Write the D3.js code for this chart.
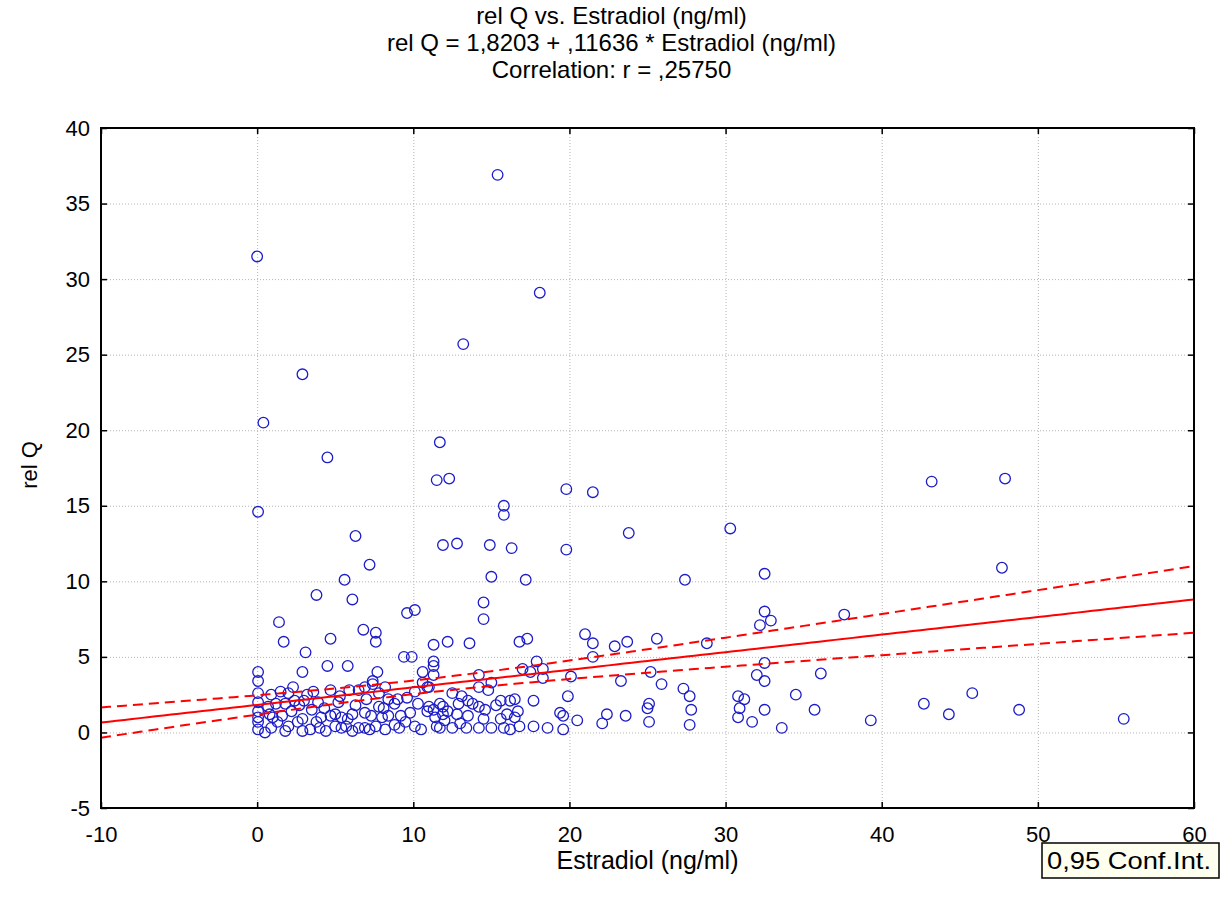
<!DOCTYPE html>
<html><head><meta charset="utf-8">
<script src="https://cdn.jsdelivr.net/npm/d3@7"></script>
<style>
body{margin:0;background:#fff;}
svg text{font-family:"Liberation Sans",Arial,sans-serif;fill:#000;}
</style></head>
<body><svg id="c" width="1223" height="904"></svg>
<script>
const titleLines = ["rel Q vs. Estradiol (ng/ml)", "rel Q = 1,8203 + ,11636 * Estradiol (ng/ml)", "Correlation: r = ,25750"];
const xLabel = "Estradiol (ng/ml)";
const yLabel = "rel Q";
const legendLabel = "0,95 Conf.Int.";
const xTicks = [-10, 0, 10, 20, 30, 40, 50, 60];
const yTicks = [-5, 0, 5, 10, 15, 20, 25, 30, 35, 40];
const intercept = 1.8203, slope = 0.11636;
// confidence band parameters (hyperbola around mean of x)
const bandMeanX = 10.5, bandA = 0.45, bandB = 0.0436;

const estradiol = [0.0,15.4,18.1,2.9,13.2,0.4,4.5,11.7,11.5,12.3,19.8,21.5,15.8,15.8,23.8,11.9,12.8,14.9,16.3,19.8,15.0,17.2,14.5,14.5,0.06,6.3,7.2,5.6,3.8,6.1,9.6,10.1,1.4,6.8,7.6,7.6,1.7,4.7,3.1,9.4,9.9,11.3,0.06,0.06,2.9,4.5,5.8,7.7,7.4,10.6,11.3,11.3,11.3,
27.4,32.5,32.5,32.9,32.2,37.6,23.7,25.6,28.8,32.5,32.0,32.5,36.1,25.2,25.9,23.3,27.3,27.7,30.8,31.2,34.5,25.1,25.0,27.8,30.9,32.5,35.7,23.6,30.8,25.1,27.7,31.7,33.6,39.3,47.7,42.7,44.3,45.8,48.8,55.5,43.2,47.9,30.3,
12.2,13.6,16.8,17.3,21.0,21.5,22.9,17.9,17.0,18.3,18.3,21.5,20.1,14.2,14.2,14.8,19.9,17.7,16.2,15.6,13.8,12.9,11.9,11.3,11.4,11.9,12.8,13.5,14.5,15.6,16.5,16.7,19.4,19.6,20.5,22.4,22.1,11.7,12.5,13.4,14.2,15.0,15.8,17.7,18.6,19.6,17.5,16.8,16.5,13.5,12.2,14.2,16.2,11.0,11.0,11.7,11.5,
1.5,2.3,3.2,4.7,0.06,0.06,0.06,0.06,0.8,1.3,1.8,2.2,2.6,2.9,3.5,3.8,4.4,4.7,5.0,1.2,1.8,0.5,3.9,2.4,
6.5,6.9,8.2,9.6,10.1,10.9,7.8,6.9,6.1,5.4,8.4,9.2,9.8,10.9,5.4,6.1,6.9,7.6,8.2,8.8,9.5,10.1,5.9,7.4,9.0,8.4,10.3,0.06,0.06,
0.9,2.0,3.4,4.0,5.7,6.5,7.2,9.1,10.5,1.0,1.6,2.9,4.1,5.0,5.8,7.3,8.0,0.7,2.7,3.0,4.3,5.2,6.3,7.0,8.1,8.8,0.9,2.0,3.6,5.3,7.8,
12.0,13.0,14.6,15.3,16.0,13.1,15.0,12.5,10.6];
const relQ = [31.5,36.9,29.1,23.7,25.7,20.5,18.2,19.2,16.7,16.8,16.1,15.9,15.0,14.4,13.2,12.4,12.5,12.4,12.2,12.1,10.3,10.1,8.6,7.5,14.6,13.0,11.1,10.1,9.1,8.8,7.9,8.1,7.3,6.8,6.6,6.0,6.0,6.2,5.3,5.0,5.0,5.8,4.0,3.4,4.0,4.4,4.4,4.0,3.4,4.0,4.7,4.4,3.8,
10.1,10.5,8.0,7.4,7.1,7.8,6.0,6.2,5.9,4.6,3.8,3.4,3.9,4.0,3.2,3.4,2.9,2.4,2.4,2.2,2.5,1.9,1.6,1.5,1.6,1.5,1.5,1.1,1.0,0.7,0.5,0.7,0.3,0.8,10.9,1.9,1.2,2.6,1.5,0.9,16.6,16.8,13.5,
6.0,5.9,6.0,6.2,6.5,5.9,5.7,4.7,4.2,4.2,3.6,5.0,3.7,3.8,3.0,2.8,2.4,2.1,2.1,2.1,1.9,1.9,1.7,1.5,1.0,1.2,1.2,1.1,0.9,0.9,1.0,1.4,1.3,1.1,0.8,1.2,0.6,0.3,0.3,0.3,0.3,0.3,0.3,0.4,0.3,0.2,4.0,0.4,2.2,2.1,1.4,1.7,0.2,3.0,1.7,1.9,0.4,
2.7,3.0,2.5,2.8,2.0,1.4,0.7,0.2,1.2,0.7,0.1,1.4,0.7,0.1,1.5,0.7,0.1,1.1,0.4,1.9,1.9,0.0,2.0,2.1,
2.8,3.0,3.0,2.3,2.7,3.0,1.7,1.3,1.2,1.0,1.1,1.1,1.3,1.4,0.3,0.1,0.3,0.4,0.2,0.5,0.7,0.4,2.8,3.2,2.2,2.2,1.9,2.6,1.0,
0.3,0.4,0.2,0.3,0.4,0.3,0.2,0.3,0.2,1.0,1.1,0.9,1.0,1.2,0.9,1.1,1.0,1.7,1.8,2.1,1.6,2.0,1.8,2.2,1.6,1.9,2.5,2.6,2.7,2.4,2.6,
0.8,0.6,1.5,1.8,1.2,2.4,3.3,2.6,3.3];

const W = 1223, H = 904;
const m = {left:101, right:1194, top:128, bottom:808};
const svg = d3.select("#c");
const x = d3.scaleLinear().domain([-10,60]).range([m.left, m.right]);
const y = d3.scaleLinear().domain([-5,40]).range([m.bottom, m.top]);

// grid
const grid = svg.append("g").attr("stroke","#b4b4b4").attr("stroke-width",1).attr("stroke-dasharray","1,2");
grid.selectAll(".gx").data(xTicks.slice(1,-1)).join("line")
  .attr("x1",d=>x(d)+0.5).attr("x2",d=>x(d)+0.5).attr("y1",m.top).attr("y2",m.bottom);
grid.selectAll(".gy").data(yTicks.slice(1,-1)).join("line")
  .attr("y1",d=>y(d)+0.5).attr("y2",d=>y(d)+0.5).attr("x1",m.left).attr("x2",m.right);

// points
const pts = estradiol.map((v,i)=>({x:v,y:relQ[i]}));
svg.append("g").selectAll("circle").data(pts).join("circle")
  .attr("cx",d=>x(d.x)).attr("cy",d=>y(d.y)).attr("r",5.3)
  .attr("fill","none").attr("stroke","#1c1cc8").attr("stroke-width",1.3);

// regression & band
const xs = d3.range(-10, 60.01, 0.5);
const fit = v => intercept + slope*v;
const hw = v => Math.sqrt(bandA*bandA + bandB*bandB*(v-bandMeanX)*(v-bandMeanX));
const line = d3.line().x(d=>x(d[0])).y(d=>y(d[1]));
svg.append("path").attr("d", line(xs.map(v=>[v,fit(v)+hw(v)]))).attr("fill","none").attr("stroke","#ff0000").attr("stroke-width",2).attr("stroke-dasharray","10,6");
svg.append("path").attr("d", line(xs.map(v=>[v,fit(v)-hw(v)]))).attr("fill","none").attr("stroke","#ff0000").attr("stroke-width",2).attr("stroke-dasharray","10,6");
svg.append("path").attr("d", line(xs.map(v=>[v,fit(v)]))).attr("fill","none").attr("stroke","#ff0000").attr("stroke-width",2);

// axes: inward ticks on all four sides
const fs = 22;
const fmt = d => String(d);
const gB = svg.append("g").attr("transform",`translate(0,${m.bottom})`)
  .call(d3.axisBottom(x).tickValues(xTicks).tickSizeInner(-6).tickSizeOuter(0).tickPadding(18).tickFormat(fmt));
const gT = svg.append("g").attr("transform",`translate(0,${m.top})`)
  .call(d3.axisTop(x).tickValues(xTicks).tickSizeInner(-6).tickSizeOuter(0).tickFormat(""));
const gL = svg.append("g").attr("transform",`translate(${m.left},0)`)
  .call(d3.axisLeft(y).tickValues(yTicks).tickSizeInner(-6).tickSizeOuter(0).tickPadding(11).tickFormat(fmt));
const gR = svg.append("g").attr("transform",`translate(${m.right},0)`)
  .call(d3.axisRight(y).tickValues(yTicks).tickSizeInner(-6).tickSizeOuter(0).tickFormat(""));
[gB,gT,gL,gR].forEach(g=>{
  g.select(".domain").remove();
  g.selectAll(".tick line").attr("stroke","#000").attr("stroke-width",1.5);
  g.selectAll("text").style("font-size",fs+"px").style("font-family","Liberation Sans, Arial, sans-serif").attr("fill","#000");
});
svg.append("rect").attr("x",m.left).attr("y",m.top).attr("width",m.right-m.left).attr("height",m.bottom-m.top)
  .attr("fill","none").attr("stroke","#000").attr("stroke-width",2);

// titles
svg.append("g").selectAll("text").data(titleLines).join("text")
  .attr("x",W/2).attr("y",(d,i)=>24+i*27).attr("text-anchor","middle").style("font-size","24px").text(d=>d);
svg.append("text").attr("x",(m.left+m.right)/2).attr("y",869).attr("text-anchor","middle").style("font-size","25px").text(xLabel);
svg.append("text").attr("transform",`translate(37,${(m.top+m.bottom)/2 - 3}) rotate(-90)`).attr("text-anchor","middle").style("font-size","22px").text(yLabel);

// legend
svg.append("rect").attr("x",1042).attr("y",843).attr("width",177).attr("height",35).attr("fill","#fffff0").attr("stroke","#000").attr("stroke-width",1.5);
svg.append("text").attr("x",1047).attr("y",869).style("font-size","24px").attr("textLength",164).attr("lengthAdjust","spacingAndGlyphs").text(legendLabel);
</script></body></html>
